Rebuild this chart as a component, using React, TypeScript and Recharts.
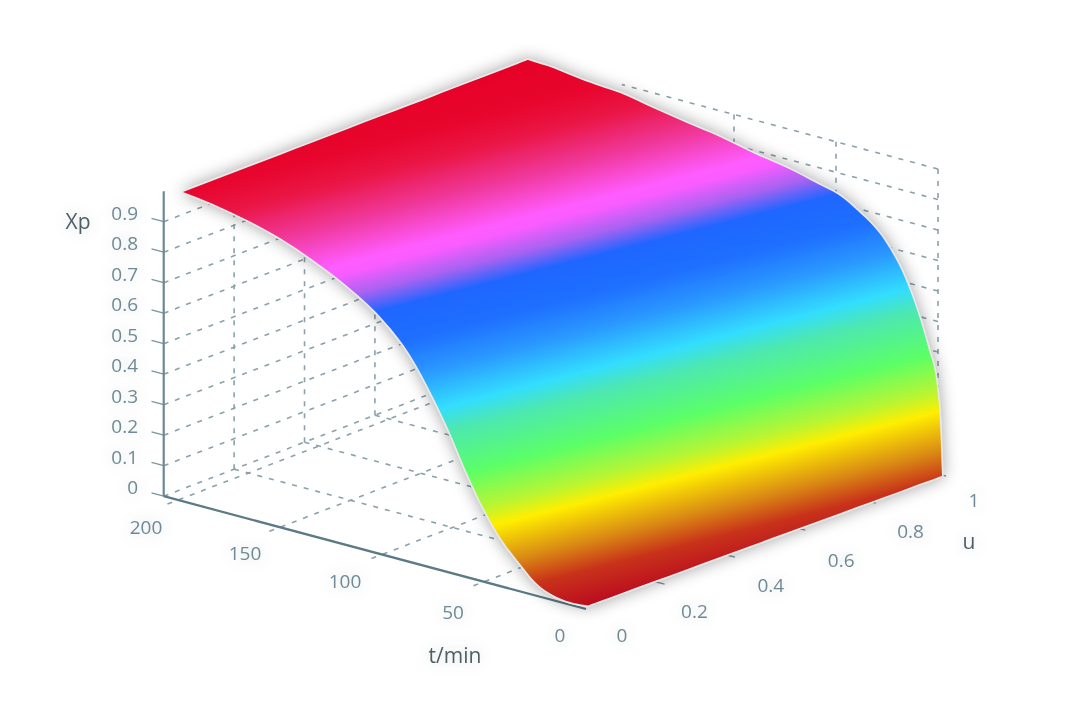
import React from 'react';
import { ComposedChart, Area, Line, XAxis, YAxis, LabelList } from 'recharts';

const WIDTH = 1080;
const HEIGHT = 718;

// tick values
const xpTicks = [0, 0.1, 0.2, 0.3, 0.4, 0.5, 0.6, 0.7, 0.8, 0.9];
const tTicks = [0, 50, 100, 150, 200];
const uTicks = [0, 0.2, 0.4, 0.6, 0.8, 1];
const xpTickLabels = ['0', '0.1', '0.2', '0.3', '0.4', '0.5', '0.6', '0.7', '0.8', '0.9'];
const tTickLabels = ['0', '50', '100', '150', '200'];
const uTickLabels = ['0', '0.2', '0.4', '0.6', '0.8', '1'];

// outline of the surface as seen on the page
const surfaceColumns = [183, 213, 247, 280, 313, 347, 380, 410, 433, 450, 467, 483, 500, 517, 525, 528, 531, 553, 570, 585, 588, 591, 600, 620, 653, 687, 720, 753, 787, 820, 838, 858, 885, 905, 918, 928, 937, 940, 942];
const surfaceUpper = [192, 180.5, 167.5, 154.9, 142.3, 129.3, 116.6, 105.2, 96.4, 89.8, 83.3, 77.2, 70.7, 64.2, 61.1, 60, 61, 68, 75, 81, 82, 83, 86.3, 93, 108, 123, 137, 153, 168, 185, 194.5, 211, 241, 278, 313, 347, 387, 423, 476];
const surfaceLower = [192, 204, 220, 238, 260, 286, 316.5, 355, 397, 433, 473, 507, 537, 560, 570, 573.8, 577.5, 595, 602, 605, 605.4, 604.3, 601, 593.7, 581.6, 569.2, 557.1, 545, 532.6, 520.5, 514, 506.6, 496.7, 489.4, 484.6, 481, 477.7, 476.6, 476];

// colormap along the direction across the bands
const bandPositions = [190, 240, 270, 310, 351, 362, 385, 408, 445, 480, 520, 545, 592, 630, 651, 690, 720, 757];
const bandColors = ['#e60026', '#e8062e', '#ea1646', '#f0389a', '#ff5cff', '#f85cff', '#a862f2', '#1e66ff', '#1f70ff', '#2a98ff', '#33ddff', '#4de8b0', '#5cff66', '#b8f533', '#ffee00', '#da8c14', '#c8321a', '#bb0a20'];

// parallel projection of the box onto the page
const project = (t: number, u: number, z: number) => ({
  x: 586 - 2.04 * t + 352 * u,
  y: 609 - 0.545 * t - 135 * u - 305 * z,
});

const T_BACK = 207;

const surfaceData = surfaceColumns.map((x, i) => ({ x, y: [surfaceUpper[i], surfaceLower[i]] }));

type Segment = { key: string; data: { x: number; y: number }[] };
const seg = (key: string, a: [number, number, number], b: [number, number, number]): Segment => ({
  key,
  data: [project(...a), project(...b)],
});

const dashedLines: Segment[] = [
  // back wall at t = end of the box
  ...xpTicks.slice(1).map(z => seg(`wall-t-${z}`, [T_BACK, 0, z], [T_BACK, 1, z])),
  ...[0.2, 0.4, 0.6].map(u => seg(`wall-t-v-${u}`, [T_BACK, u, 0], [T_BACK, u, 0.95])),
  // side wall at u = 1
  ...xpTicks.map(z => seg(`wall-u-${z}`, [0, 1, z], [T_BACK, 1, z])),
  seg('wall-u-top', [0, 1, 1], [155, 1, 1]),
  ...[0, 50, 100].map(t => seg(`wall-u-v-${t}`, [t, 1, 0], [t, 1, 1])),
  // floor
  ...tTicks.slice(1).map(t => seg(`floor-t-${t}`, [t, -0.03, 0], [t, 1, 0])),
  seg('floor-back', [T_BACK, 0, 0], [T_BACK, 1, 0]),
  ...[0.2, 0.4, 0.6, 0.8].map(u => seg(`floor-u-${u}`, [T_BACK, u, 0], [0, u, 0])),
];

const tickMarks: Segment[] = [
  ...xpTicks.map(z => seg(`tick-z-${z}`, [T_BACK, 0, z], [T_BACK + 6, 0, z])),
  ...uTicks.slice(1).map(u => seg(`tick-u-${u}`, [0, u, 0], [-4, u, 0])),
];

const zAxisLine = seg('axis-z', [T_BACK, 0, 0], [T_BACK, 0, 1]);
const tAxisLine = seg('axis-t', [T_BACK, 0, 0], [0, 0, 0]);

// small label shifts, tick value order
const tNudge = [[-26, 26], [-31, 30], [-37, 26], [-35, 26], [-32, 27]];
const uNudge = [[36, 26], [38, 29], [44, 30], [44, 32], [43, 30], [36, 26]];

const zLabels = xpTicks.map((z, i) => {
  const p = project(T_BACK, 0, z);
  return { x: 138, y: p.y - 9, text: xpTickLabels[i] };
});
const tLabels = tTicks.map((t, i) => {
  const p = project(t, 0, 0);
  return { x: p.x + tNudge[i][0], y: p.y + tNudge[i][1], text: tTickLabels[i] };
});
const uLabels = uTicks.map((u, i) => {
  const p = project(0, u, 0);
  return { x: p.x + uNudge[i][0], y: p.y + uNudge[i][1], text: uTickLabels[i] };
});
const titleLabels = [
  { x: 78, y: 221, text: 'Xp' },
  { x: 455, y: 655, text: 't/min' },
  { x: 969, y: 541, text: 'u' },
];

const FONT = '"Open Sans", "Noto Sans", sans-serif';

const labelContent = (fill: string, anchor: string, size: number) => (props: any) => (
  <text
    className="halo"
    x={props.x}
    y={props.y}
    fill={fill}
    textAnchor={anchor as any}
    dominantBaseline="central"
    fontFamily={FONT}
    fontSize={size}
  >
    {props.value}
  </text>
);

const S0 = 190;
const S1 = 757;
const SLOPE = 0.255;
const K = (S1 - S0) / (1 + SLOPE * SLOPE);

const Z_GRID = 100;
const Z_RIM = 200;
const Z_FILL = 210;
const Z_TEXT = 300;

const labelLine = (key: string, data: any[], fill: string, anchor: string, size: number) => (
  <Line
    key={key}
    data={data}
    dataKey="y"
    stroke="none"
    dot={false}
    activeDot={false}
    isAnimationActive={false}
    zIndex={Z_TEXT}
  >
    <LabelList dataKey="text" content={labelContent(fill, anchor, size)} zIndex={Z_TEXT} />
  </Line>
);

export default function App() {
  return (
    <div style={{ position: 'absolute', left: 0, top: 0, width: WIDTH, height: HEIGHT, filter: 'blur(0.7px)' }}>
      <style>{`
        .surface-rim { filter: drop-shadow(0 0 8px rgba(0,0,0,0.36)); }
        .halo { filter: drop-shadow(0 0 7px rgba(40,60,70,0.22)); }
      `}</style>
      <ComposedChart width={WIDTH} height={HEIGHT} margin={{ top: 0, right: 0, bottom: 0, left: 0 }} data={surfaceData}>
        <defs>
          <linearGradient
            id="surfaceFill"
            gradientUnits="userSpaceOnUse"
            x1={560}
            y1={S0 - SLOPE * 560}
            x2={560 + K * SLOPE}
            y2={S0 - SLOPE * 560 + K}
          >
            {bandPositions.map((s, i) => (
              <stop key={s} offset={(s - S0) / (S1 - S0)} stopColor={bandColors[i]} />
            ))}
          </linearGradient>
        </defs>
        <XAxis dataKey="x" type="number" domain={[0, WIDTH]} hide allowDataOverflow />
        <YAxis type="number" domain={[0, HEIGHT]} reversed hide allowDataOverflow />

        {dashedLines.map(s => (
          <Line
            key={s.key}
            data={s.data}
            dataKey="y"
            stroke="#8aa1ab"
            strokeWidth={1.6}
            strokeDasharray="5 7"
            dot={false}
            activeDot={false}
            isAnimationActive={false}
            zIndex={Z_GRID}
          />
        ))}
        {tickMarks.map(s => (
          <Line
            key={s.key}
            data={s.data}
            dataKey="y"
            stroke="#7d95a0"
            strokeWidth={1.4}
            dot={false}
            activeDot={false}
            isAnimationActive={false}
            zIndex={Z_GRID}
          />
        ))}
        <Line data={zAxisLine.data} dataKey="y" stroke="#6c8894" strokeWidth={2.2} dot={false} activeDot={false} isAnimationActive={false} zIndex={Z_GRID} />
        <Line data={tAxisLine.data} dataKey="y" stroke="#5c7a86" strokeWidth={2.2} dot={false} activeDot={false} isAnimationActive={false} zIndex={Z_GRID} />

        <Area
          className="surface-rim"
          data={surfaceData}
          dataKey="y"
          type="monotoneX"
          fill="#e8e8e8"
          fillOpacity={1}
          stroke="#e8e8e8"
          strokeWidth={3.5}
          isAnimationActive={false}
          zIndex={Z_RIM}
        />
        <Area
          data={surfaceData}
          dataKey="y"
          type="monotoneX"
          fill="url(#surfaceFill)"
          fillOpacity={1}
          stroke="none"
          isAnimationActive={false}
          zIndex={Z_FILL}
        />

        {labelLine('z-labels', zLabels, '#6f8a96', 'end', 19)}
        {labelLine('t-labels', tLabels, '#6f8a96', 'middle', 19)}
        {labelLine('u-labels', uLabels, '#6f8a96', 'middle', 19)}
        {labelLine('titles', titleLabels, '#4f5f67', 'middle', 21)}
      </ComposedChart>
    </div>
  );
}
